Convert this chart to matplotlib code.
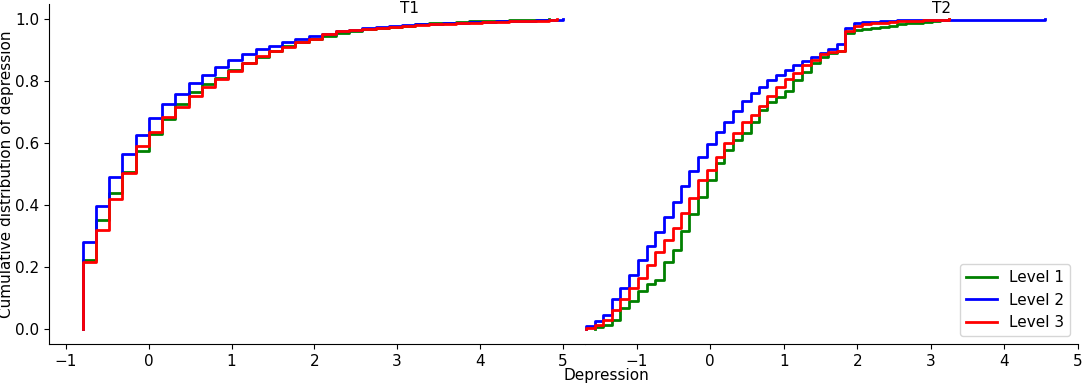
import numpy as np
import matplotlib
matplotlib.use('Agg')
import matplotlib.pyplot as plt
import matplotlib.transforms as mtransforms

plt.rcParams['font.size'] = 11

# T1: step positions (depression score) and cumulative shares per level
t1_x = [-0.80, -0.64, -0.48, -0.32, -0.16, 0.00, 0.16, 0.32, 0.48, 0.64,
        0.80, 0.96, 1.13, 1.29, 1.45, 1.61, 1.77, 1.93, 2.09, 2.26,
        2.42, 2.58, 2.74, 2.90, 3.06, 3.22, 3.39, 3.55, 3.71, 3.87,
        4.03, 4.19, 4.35, 4.51, 4.68, 4.84, 5.00]
t1_level1 = [0.222, 0.350, 0.437, 0.508, 0.573, 0.630, 0.678, 0.728, 0.765, 0.791,
             0.812, 0.835, 0.858, 0.879, 0.899, 0.914, 0.927, 0.938, 0.946, 0.957,
             0.963, 0.968, 0.972, 0.976, 0.980, 0.984, 0.987, 0.990, 0.992, 0.994,
             0.995, 0.996, 0.997, 0.998, 0.999, 1.000]
t1_level2 = [0.280, 0.398, 0.490, 0.565, 0.627, 0.681, 0.727, 0.759, 0.795, 0.820,
             0.847, 0.868, 0.887, 0.903, 0.915, 0.927, 0.936, 0.946, 0.953, 0.962,
             0.967, 0.971, 0.975, 0.978, 0.981, 0.984, 0.986, 0.988, 0.990, 0.992,
             0.993, 0.994, 0.995, 0.996, 0.997, 0.998, 1.000]
t1_level3 = [0.215, 0.320, 0.419, 0.503, 0.589, 0.637, 0.683, 0.716, 0.753, 0.781,
             0.806, 0.834, 0.860, 0.881, 0.898, 0.912, 0.926, 0.936, 0.952, 0.964,
             0.966, 0.969, 0.972, 0.975, 0.978, 0.981, 0.984, 0.986, 0.988, 0.990,
             0.992, 0.993, 0.994, 0.995, 0.996, 0.997]
t1_level3_end = (4.93, 1.0)

# T2
t2_x = [-1.69, -1.57, -1.45, -1.33, -1.22, -1.10, -0.98, -0.86, -0.75, -0.63,
        -0.51, -0.39, -0.28, -0.16, -0.04, 0.08, 0.19, 0.31, 0.43, 0.55,
        0.66, 0.78, 0.90, 1.02, 1.13, 1.25, 1.37, 1.49, 1.60, 1.72,
        1.84, 1.96, 2.07, 2.19, 2.31, 2.43, 2.54, 2.66, 2.78, 2.90,
        3.01, 3.13, 3.25]
t2_level1 = [0.000, 0.004, 0.012, 0.029, 0.067, 0.088, 0.120, 0.145, 0.158, 0.214,
             0.255, 0.317, 0.371, 0.425, 0.481, 0.535, 0.578, 0.610, 0.632, 0.667,
             0.707, 0.734, 0.750, 0.770, 0.804, 0.831, 0.858, 0.880, 0.892, 0.899,
             0.955, 0.966, 0.970, 0.973, 0.976, 0.980, 0.984, 0.987, 0.990, 0.993,
             0.995, 0.998, 1.000]
t2_level2 = [0.007, 0.023, 0.043, 0.094, 0.131, 0.173, 0.223, 0.266, 0.312, 0.361,
             0.411, 0.462, 0.510, 0.556, 0.597, 0.637, 0.669, 0.704, 0.737, 0.761,
             0.782, 0.804, 0.820, 0.836, 0.852, 0.865, 0.879, 0.892, 0.903, 0.919,
             0.973, 0.988, 0.991, 0.993, 0.995, 0.996, 0.997, 0.998, 0.998, 0.998,
             0.999, 0.999, 0.999]
t2_level2_end = (4.55, 1.0)
t2_level3 = [0.002, 0.010, 0.027, 0.061, 0.096, 0.130, 0.164, 0.207, 0.248, 0.287,
             0.325, 0.374, 0.423, 0.481, 0.513, 0.556, 0.600, 0.634, 0.667, 0.691,
             0.720, 0.752, 0.782, 0.807, 0.828, 0.853, 0.869, 0.887, 0.895, 0.899,
             0.963, 0.980, 0.984, 0.987, 0.990, 0.992, 0.994, 0.995, 0.996, 0.997,
             0.998, 0.999, 1.000]

colors = {'Level 1': 'green', 'Level 2': 'blue', 'Level 3': 'red'}


def ecdf_line(ax, xs, ys, end=None, **kw):
    xs = list(xs[:len(ys)])
    ys = list(ys)
    if end is not None:
        xs.append(end[0])
        ys.append(end[1])
    x = np.r_[xs[0], xs]
    y = np.r_[0.0, ys]
    ax.step(x, y, where='post', lw=2, **kw)


fig = plt.figure(figsize=(10.84, 3.84), dpi=100)
ax1 = fig.add_axes([49 / 1084, 40 / 384, 536 / 1084, 340 / 384])
ax2 = fig.add_axes([585 / 1084, 40 / 384, 493 / 1084, 340 / 384])

ecdf_line(ax1, t1_x, t1_level1, color=colors['Level 1'], label='Level 1')
ecdf_line(ax1, t1_x, t1_level2, color=colors['Level 2'], label='Level 2')
ecdf_line(ax1, t1_x, t1_level3, end=t1_level3_end, color=colors['Level 3'], label='Level 3')

ecdf_line(ax2, t2_x[1:], t2_level1[1:], color=colors['Level 1'], label='Level 1')
ecdf_line(ax2, t2_x, t2_level2, end=t2_level2_end, color=colors['Level 2'], label='Level 2')
ecdf_line(ax2, t2_x, t2_level3, color=colors['Level 3'], label='Level 3')

ax1.set_xlim(-1.206, 5.27)
ax2.set_xlim(-1.70, 5.0)
for ax in (ax1, ax2):
    ax.set_ylim(-0.05, 1.05)
    ax.set_xticks(range(-1, 6))
    ax.spines['top'].set_visible(False)
    ax.spines['right'].set_visible(False)

ax1.set_yticks([0.0, 0.2, 0.4, 0.6, 0.8, 1.0])
ax1.set_ylabel('Cumulative distribution of depression')
ax1.yaxis.set_label_coords(-0.066, 0.5)
ax2.spines['left'].set_visible(False)
ax2.set_yticks([])

for ax, name in ((ax1, 'T1'), (ax2, 'T2')):
    tr = mtransforms.blended_transform_factory(ax.transData, ax.transAxes)
    ax.text(3.15, 0.987, name, transform=tr, ha='center', va='center')

ax2.legend(loc='lower right')
fig.text(606 / 1084, 0.022, 'Depression', ha='center', va='center')

fig.savefig('out.png', dpi=100)
